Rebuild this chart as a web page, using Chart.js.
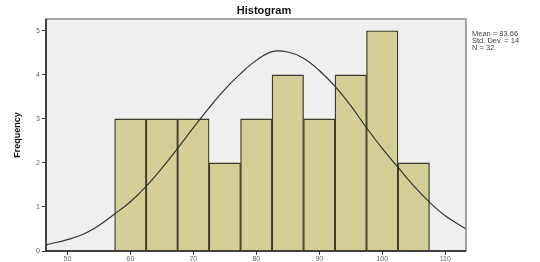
<!DOCTYPE html>
<html>
<head>
<meta charset="utf-8">
<script src="https://cdn.jsdelivr.net/npm/chart.js@4/dist/chart.umd.min.js"></script>
<style>
  html, body { margin: 0; padding: 0; background: #fff; }
  #wrap { width: 540px; height: 262px; }
</style>
</head>
<body>
<div id="wrap"><canvas id="myChart_hist"></canvas></div>
<script>
// histogram bins (bin centers, width 5)
const binCenters = [60, 65, 70, 75, 80, 85, 90, 95, 100, 105]
const frequencies = [3, 3, 3, 2, 3, 4, 3, 4, 5, 2]

// normal curve
const curveX = [46.6, 50, 52.5, 55, 57.5, 60, 62.5, 65, 67.5, 70, 72.5, 75, 77.5, 80, 82.5, 85, 87.5, 90, 92.5, 95, 97.5, 100, 102.5, 105, 107.5, 110, 113.3]
const curveY = [0.14, 0.26, 0.38, 0.58, 0.84, 1.12, 1.47, 1.88, 2.33, 2.80, 3.25, 3.67, 4.03, 4.33, 4.53, 4.52, 4.38, 4.10, 3.74, 3.30, 2.80, 2.33, 1.90, 1.48, 1.11, 0.80, 0.50]

const xTicks = [50, 60, 70, 80, 90, 100, 110]
const yTicks = [0, 1, 2, 3, 4, 5]
const statsLines = ['Mean = 83.66', 'Std. Dev. = 14', 'N = 32']

const plotBox = {
  id: 'plotBox',
  beforeDatasetsDraw(chart) {
    const a = chart.chartArea, ctx = chart.ctx
    ctx.save()
    ctx.fillStyle = '#efefef'
    ctx.fillRect(a.left, a.top, a.right - a.left, a.bottom - a.top)
    ctx.restore()
  },
  afterDraw(chart) {
    const a = chart.chartArea, ctx = chart.ctx
    ctx.save()
    ctx.strokeStyle = '#8a8a8a'
    ctx.lineWidth = 1.5
    ctx.strokeRect(a.left, a.top, a.right - a.left, a.bottom - a.top)
    ctx.strokeStyle = '#222'
    ctx.beginPath()
    ctx.moveTo(a.left, a.top); ctx.lineTo(a.left, a.bottom); ctx.lineTo(a.right, a.bottom)
    ctx.stroke()
    // title
    ctx.fillStyle = '#111'
    ctx.font = 'bold 11px "Liberation Sans", Arial, sans-serif'
    ctx.textAlign = 'center'
    ctx.textBaseline = 'middle'
    ctx.fillText('Histogram', 264, 11)
    // stats
    ctx.fillStyle = '#444'
    ctx.font = '7.5px "Liberation Sans", Arial, sans-serif'
    ctx.textAlign = 'left'
    statsLines.forEach((t, i) => ctx.fillText(t, 472, 34 + i * 6.8))
    ctx.restore()
  }
}

const data_hist = {
  datasets: [
    {
      type: 'line',
      data: curveX.map((x, i) => ({x: x, y: curveY[i]})),
      borderColor: '#333',
      borderWidth: 1.2,
      pointRadius: 0,
      tension: 0.4,
      fill: false,
      order: 0
    },
    {
      type: 'bar',
      data: binCenters.map((x, i) => ({x: x, y: frequencies[i]})),
      backgroundColor: '#d3cf97',
      borderColor: '#3b3a2c',
      borderWidth: 1.3,
      barPercentage: 1,
      categoryPercentage: 1,
      order: 1
    }
  ]
}

const config_hist = {
  data: data_hist,
  plugins: [plotBox],
  options: {
    responsive: true,
    maintainAspectRatio: false,
    animation: false,
    layout: { padding: { top: 19, right: 74, left: 0, bottom: 0 } },
    plugins: { legend: { display: false }, tooltip: { enabled: false } },
    scales: {
      x: {
        type: 'linear',
        offset: false,
        min: 46.6,
        max: 113.3,
        afterBuildTicks: (s) => { s.ticks = xTicks.map(v => ({value: v})) },
        afterFit: (s) => { s.height = 11 },
        grid: { offset: false, drawOnChartArea: false, drawTicks: true, tickLength: 4, tickColor: '#333' },
        border: { display: false },
        ticks: { color: '#666', font: { size: 7 }, padding: 0, maxRotation: 0 }
      },
      y: {
        min: 0,
        max: 5.27,
        afterBuildTicks: (s) => { s.ticks = yTicks.map(v => ({value: v})) },
        afterFit: (s) => { s.width = 46 },
        grid: { drawOnChartArea: false, drawTicks: true, tickLength: 4, tickColor: '#333' },
        border: { display: false },
        ticks: { color: '#666', font: { size: 7 }, padding: 2 },
        title: {
          display: true,
          text: 'Frequency',
          color: '#111',
          font: { size: 9, weight: 'bold', family: '"Liberation Sans", Arial, sans-serif' },
          padding: { top: 12, bottom: 0 }
        }
      }
    }
  }
}

const chart_hist = new Chart(document.getElementById('myChart_hist'), config_hist)
</script>
</body>
</html>
